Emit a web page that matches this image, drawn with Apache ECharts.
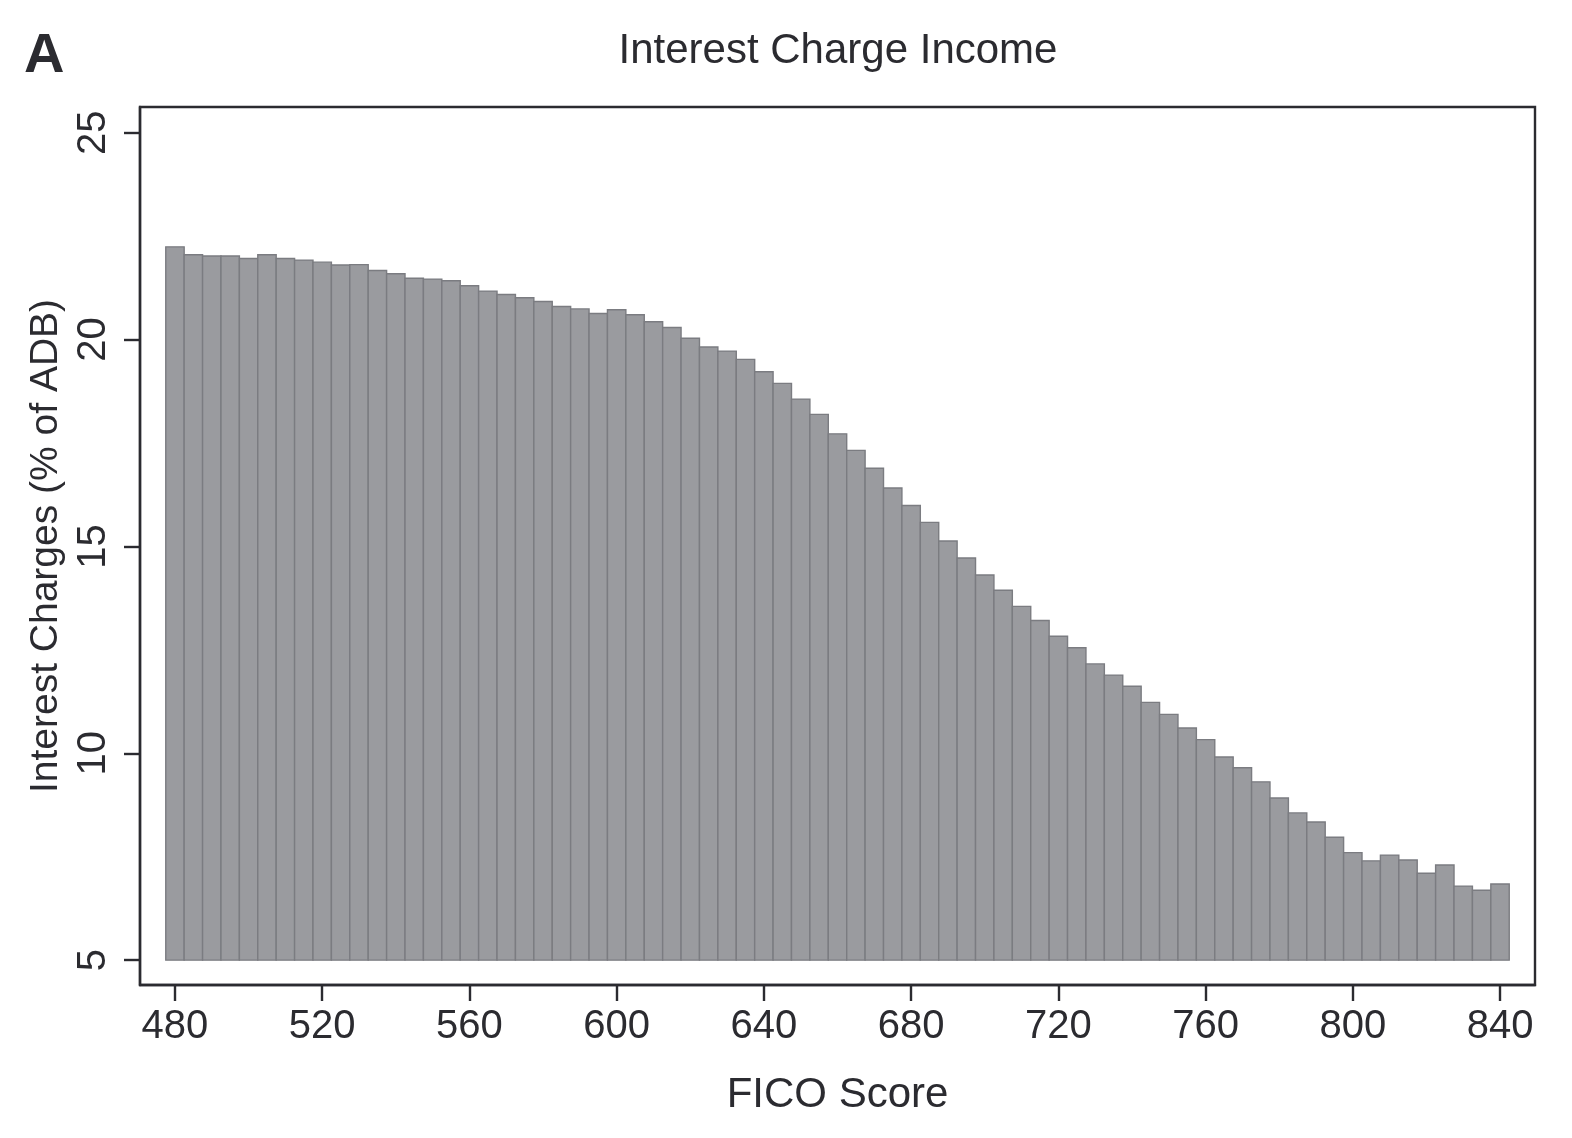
<!DOCTYPE html>
<html>
<head>
<meta charset="utf-8">
<script src="https://cdn.jsdelivr.net/npm/echarts@6/dist/echarts.min.js"></script>
<style>
html,body{margin:0;padding:0;background:#fff;}
#chart{width:1572px;height:1138px;}
</style>
</head>
<body>
<div id="chart"></div>
<script>
// FICO score bins (bin centers, width 5)
const ficoScores = [480,485,490,495,500,505,510,515,520,525,530,535,540,545,550,555,560,565,570,575,580,585,590,595,600,605,610,615,620,625,630,635,640,645,650,655,660,665,670,675,680,685,690,695,700,705,710,715,720,725,730,735,740,745,750,755,760,765,770,775,780,785,790,795,800,805,810,815,820,825,830,835,840];
// Interest charges (% of ADB)
const interestCharges = [22.24,22.05,22.02,22.02,21.96,22.05,21.96,21.92,21.87,21.80,21.81,21.67,21.59,21.48,21.46,21.42,21.30,21.17,21.09,21.01,20.92,20.80,20.74,20.63,20.72,20.60,20.43,20.29,20.03,19.82,19.72,19.52,19.22,18.94,18.56,18.19,17.72,17.32,16.89,16.41,15.99,15.58,15.13,14.72,14.31,13.94,13.55,13.21,12.83,12.55,12.16,11.89,11.62,11.23,10.94,10.61,10.33,9.91,9.65,9.31,8.92,8.56,8.34,7.97,7.60,7.40,7.54,7.42,7.10,7.30,6.79,6.69,6.84];
const binWidth = 5;
const barBase = 5;
const xTickLabels = [480,520,560,600,640,680,720,760,800,840];
const yTickLabels = [5,10,15,20,25];

const chartTitle = 'Interest Charge Income';
const panelLabel = 'A';
const xAxisTitle = 'FICO Score';
const yAxisTitle = 'Interest Charges (% of ADB)';

const textColor = '#2b2b30';
const fontFamily = '"Liberation Sans", Arial, Helvetica, sans-serif';

const chart = echarts.init(document.getElementById('chart'), null, {renderer: 'canvas'});
const seriesData = ficoScores.map((f, i) => [f, interestCharges[i]]);

chart.setOption({
  backgroundColor: '#ffffff',
  animation: false,
  title: [
    {
      text: chartTitle,
      left: 838, top: 30, textAlign: 'center', padding: 0,
      textStyle: {fontFamily, fontSize: 42, fontWeight: 'normal', color: textColor}
    },
    {
      text: panelLabel,
      left: 24, top: 29, padding: 0,
      textStyle: {fontFamily, fontSize: 56, fontWeight: 'bold', color: textColor}
    }
  ],
  grid: {
    left: 140, right: 37, top: 107, bottom: 153,
    show: true, borderColor: textColor, borderWidth: 2.4, backgroundColor: 'transparent',
    containLabel: false
  },
  xAxis: {
    type: 'value', min: 470.5, max: 849.5,
    name: xAxisTitle, nameLocation: 'middle', nameGap: 89,
    nameTextStyle: {fontFamily, fontSize: 42, color: textColor},
    axisLine: {show: true, onZero: false, lineStyle: {color: textColor, width: 2.4}},
    axisTick: {show: true, length: 16, customValues: xTickLabels, lineStyle: {color: textColor, width: 2.4}},
    axisLabel: {customValues: xTickLabels, margin: 22, fontFamily, fontSize: 40, color: textColor},
    splitLine: {show: false}
  },
  yAxis: {
    type: 'value', min: 4.4, max: 25.62,
    name: yAxisTitle, nameLocation: 'middle', nameGap: 72, nameRotate: 90,
    nameTextStyle: {fontFamily, fontSize: 39, color: textColor},
    axisLine: {show: true, onZero: false, lineStyle: {color: textColor, width: 2.4}},
    axisTick: {show: true, length: 16, customValues: yTickLabels, lineStyle: {color: textColor, width: 2.4}},
    axisLabel: {customValues: yTickLabels, rotate: 90, margin: 26, fontFamily, fontSize: 40, color: textColor},
    splitLine: {show: false}
  },
  series: [{
    type: 'custom',
    data: seriesData,
    clip: true,
    renderItem: function (params, api) {
      const x = api.value(0), y = api.value(1);
      const p0 = api.coord([x - binWidth / 2, barBase]);
      const p1 = api.coord([x + binWidth / 2, y]);
      return {
        type: 'rect',
        shape: {x: p0[0], y: p1[1], width: p1[0] - p0[0], height: p0[1] - p1[1]},
        style: {fill: '#9a9b9f', stroke: '#7b7c81', lineWidth: 1.4}
      };
    }
  }]
});
</script>
</body>
</html>
